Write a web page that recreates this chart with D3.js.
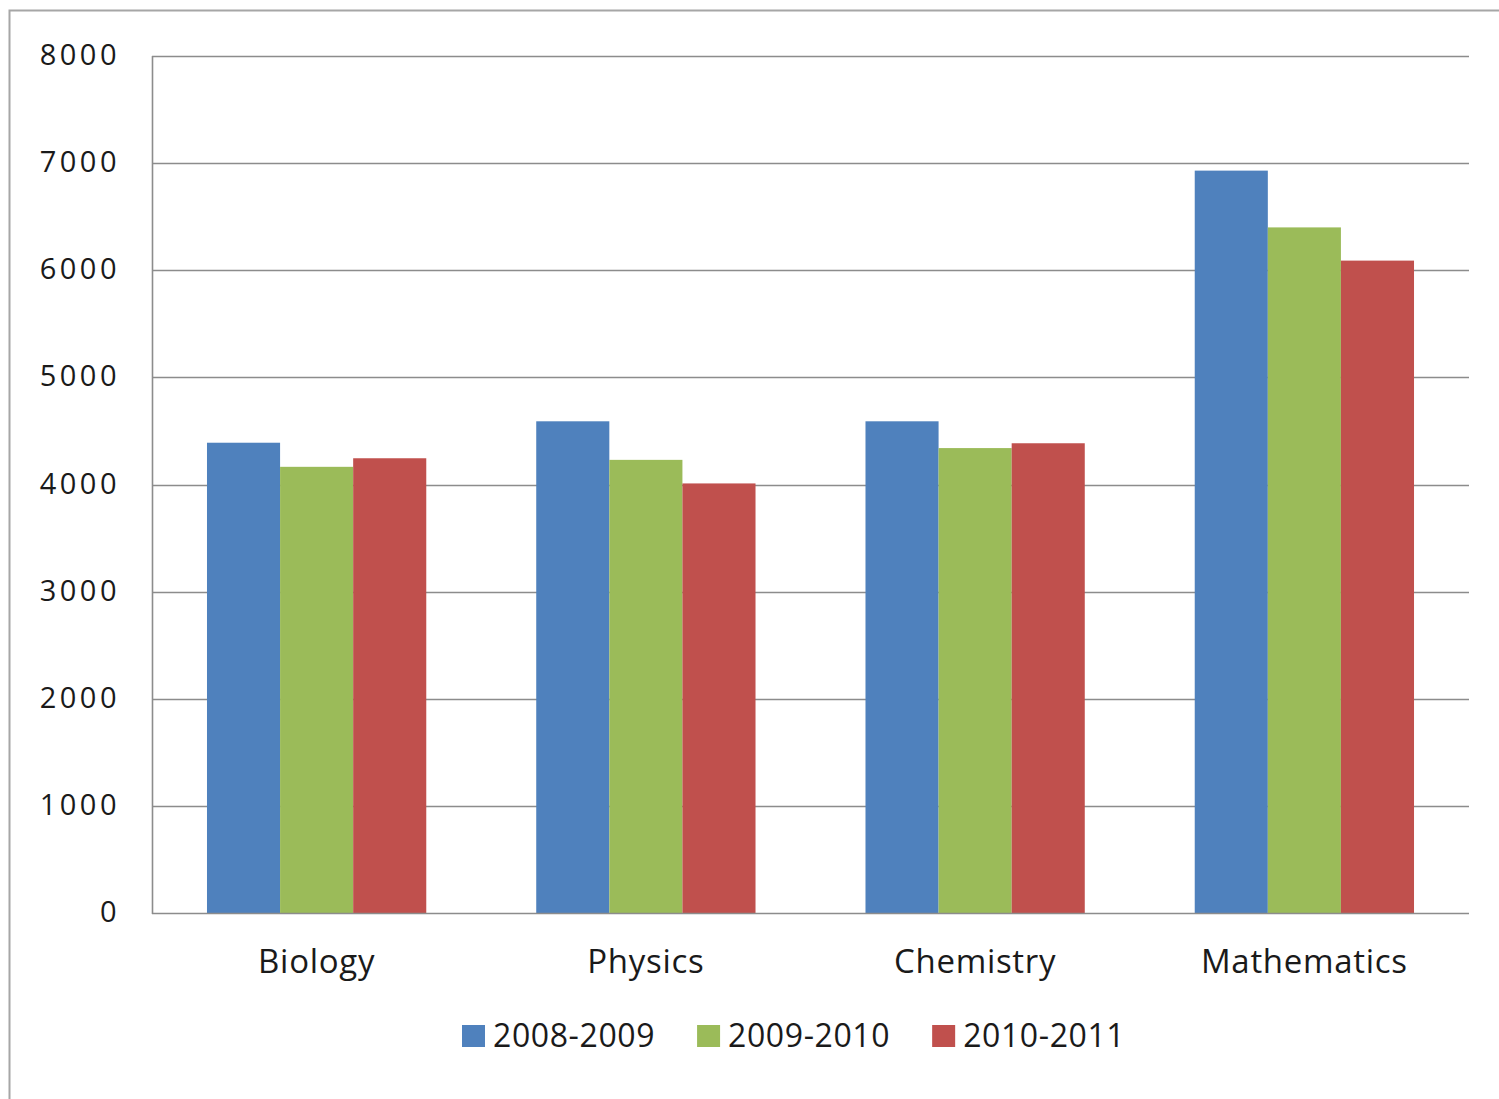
<!DOCTYPE html>
<html>
<head>
<meta charset="utf-8">
<script src="https://cdn.jsdelivr.net/npm/d3@7"></script>
<style>
  html, body { margin: 0; padding: 0; background: #fff; }
  svg { display: block; }
</style>
</head>
<body>
<svg id="chart" width="1499" height="1099"></svg>
<script>
const categories = ["Biology", "Physics", "Chemistry", "Mathematics"];
const seriesNames = ["2008-2009", "2009-2010", "2010-2011"];
const values2008 = [4390, 4590, 4590, 6930];
const values2009 = [4165, 4230, 4340, 6400];
const values2010 = [4245, 4010, 4385, 6090];
const yTicks = [0, 1000, 2000, 3000, 4000, 5000, 6000, 7000, 8000];
const colors = ["#4F81BD", "#9BBB59", "#C0504D"];

const seriesValues = [values2008, values2009, values2010];
const svg = d3.select("#chart");
const W = 1499, H = 1099;
const m = { left: 152, right: 1469, top: 56, bottom: 913 };
const font = "'Open Sans', 'Noto Sans', sans-serif";

// outer border
svg.append("rect")
  .attr("x", 9.5).attr("y", 10.5)
  .attr("width", W + 20).attr("height", H + 20)
  .attr("fill", "#fff").attr("stroke", "#a6a6a6").attr("stroke-width", 2);

const y = d3.scaleLinear().domain([0, 8000]).range([m.bottom, m.top]);
const x0 = d3.scaleBand().domain(categories).range([m.left, m.right])
  .paddingInner(0.334).paddingOuter(0.167);
const x1 = d3.scaleBand().domain(seriesNames).range([0, x0.bandwidth()]).padding(0);

// gridlines
svg.append("g").selectAll("line").data(yTicks.filter(d => d > 0)).join("line")
  .attr("x1", m.left).attr("x2", m.right)
  .attr("y1", d => Math.round(y(d)) + 0.5).attr("y2", d => Math.round(y(d)) + 0.5)
  .attr("stroke", "#8c8c8c").attr("stroke-width", 1.6);

// bars
const rows = categories.map((c, i) => ({ c, vals: seriesNames.map((s, j) => ({ s, j, v: seriesValues[j][i] })) }));
const g = svg.append("g").selectAll("g").data(rows).join("g")
  .attr("transform", d => `translate(${x0(d.c)},0)`);
g.selectAll("rect").data(d => d.vals).join("rect")
  .attr("x", d => x1(d.s))
  .attr("width", x1.bandwidth())
  .attr("y", d => y(d.v))
  .attr("height", d => y(0) - y(d.v))
  .attr("fill", d => colors[d.j]);

// axes lines
svg.append("line").attr("x1", m.left + 0.5).attr("x2", m.left + 0.5)
  .attr("y1", m.top).attr("y2", m.bottom + 1)
  .attr("stroke", "#8c8c8c").attr("stroke-width", 1.6);
svg.append("line").attr("x1", m.left).attr("x2", m.right)
  .attr("y1", Math.round(y(0)) + 0.5).attr("y2", Math.round(y(0)) + 0.5)
  .attr("stroke", "#8c8c8c").attr("stroke-width", 1.6);

// y tick labels
svg.append("g").selectAll("text").data(yTicks).join("text")
  .attr("x", 120).attr("y", d => y(d) + 9)
  .attr("text-anchor", "end")
  .attr("font-family", font).attr("font-size", 29)
  .attr("letter-spacing", 3.5)
  .attr("fill", "#1a1a1a")
  .text(d => d);

// category labels
svg.append("g").selectAll("text").data(categories).join("text")
  .attr("x", d => x0(d) + x0.bandwidth() / 2)
  .attr("y", 973)
  .attr("text-anchor", "middle")
  .attr("font-family", font).attr("font-size", 33)
  .attr("letter-spacing", 0.7)
  .attr("fill", "#1a1a1a")
  .text(d => d);

// legend
const leg = svg.append("g");
let lx = 462;
seriesNames.forEach((s, j) => {
  leg.append("rect").attr("x", lx).attr("y", 1025).attr("width", 23).attr("height", 22)
    .attr("fill", colors[j]);
  const t = leg.append("text").attr("x", lx + 31).attr("y", 1047)
    .attr("font-family", font).attr("font-size", 32).attr("letter-spacing", 0.6)
    .attr("fill", "#1a1a1a").text(s);
  lx += 31 + t.node().getComputedTextLength() + 42;
});
</script>
</body>
</html>
